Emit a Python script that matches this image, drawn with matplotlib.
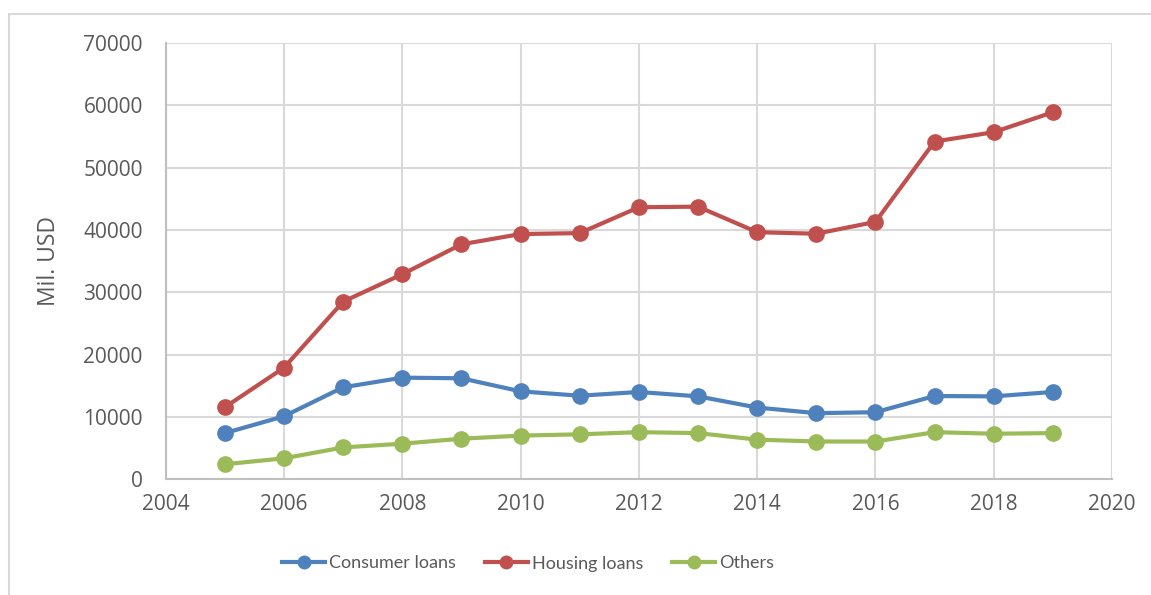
import matplotlib
matplotlib.use("Agg")
import matplotlib.pyplot as plt
from matplotlib.patches import Rectangle
from matplotlib.lines import Line2D

years = [2005, 2006, 2007, 2008, 2009, 2010, 2011, 2012, 2013, 2014, 2015, 2016, 2017, 2018, 2019]
consumer = [7400, 10100, 14750, 16300, 16200, 14100, 13400, 14000, 13300, 11500, 10600, 10750, 13350, 13300, 14000]
housing = [11550, 17900, 28500, 32900, 37700, 39350, 39500, 43650, 43750, 39650, 39400, 41300, 54200, 55700, 58900]
others = [2400, 3350, 5100, 5700, 6500, 7000, 7200, 7550, 7400, 6350, 6050, 6050, 7550, 7300, 7400]
series_names = ["Consumer loans", "Housing loans", "Others"]
colors = ["#4F81BD", "#C0504D", "#9BBB59"]
xticks = [2004, 2006, 2008, 2010, 2012, 2014, 2016, 2018, 2020]
yticks = [0, 10000, 20000, 30000, 40000, 50000, 60000, 70000]

plt.rcParams['font.family'] = ['Open Sans', 'DejaVu Sans']
W, H = 1151, 595
fig = plt.figure(figsize=(W / 100, H / 100), dpi=100)

# outer chart border
fig.patches.append(Rectangle((8.5 / W, -0.1), 1.2, (H - 14) / H + 0.1, transform=fig.transFigure,
                             fill=False, edgecolor="#D9D9D9", linewidth=1.5))

ax = fig.add_axes([165.7 / W, 1 - 479.2 / H, (1112 - 165.7) / W, (479.2 - 43.1) / H])

for vals, name, c in zip([consumer, housing, others], series_names, colors):
    ax.plot(years, vals, color=c, linewidth=3, marker='o', markersize=11, label=name,
            solid_capstyle='round', zorder=3)

ax.set_xlim(2004, 2020)
ax.set_ylim(0, 70000)
ax.set_xticks(xticks)
ax.set_yticks(yticks)
ax.grid(True, color="#D9D9D9", linewidth=1.5, zorder=0)
ax.set_axisbelow(True)
for s in ['top', 'right']:
    ax.spines[s].set_visible(False)
for s in ['left', 'bottom']:
    ax.spines[s].set_color("#BFBFBF")
    ax.spines[s].set_linewidth(1.5)
ax.tick_params(axis='both', length=0, labelsize=15, labelcolor="#595959")
ax.tick_params(axis='y', pad=16.5)
ax.tick_params(axis='x', pad=11)
ax.set_ylabel("Mil. USD", fontsize=16.5, color="#595959")
ax.yaxis.set_label_coords((61 - 165.7) / (1112 - 165.7), 0.5)

handles = [Line2D([], [], color=c, linewidth=3, marker='o', markersize=9) for c in colors]
fig.legend(handles, series_names, loc='center', bbox_to_anchor=(528 / W, 1 - 563.5 / H), ncol=3,
           frameon=False, prop={'family': ['Lato', 'DejaVu Sans'], 'size': 13},
           handlelength=2.4, handletextpad=0.2, columnspacing=1.6, labelcolor="#595959")

fig.savefig("out.png", dpi=100)
